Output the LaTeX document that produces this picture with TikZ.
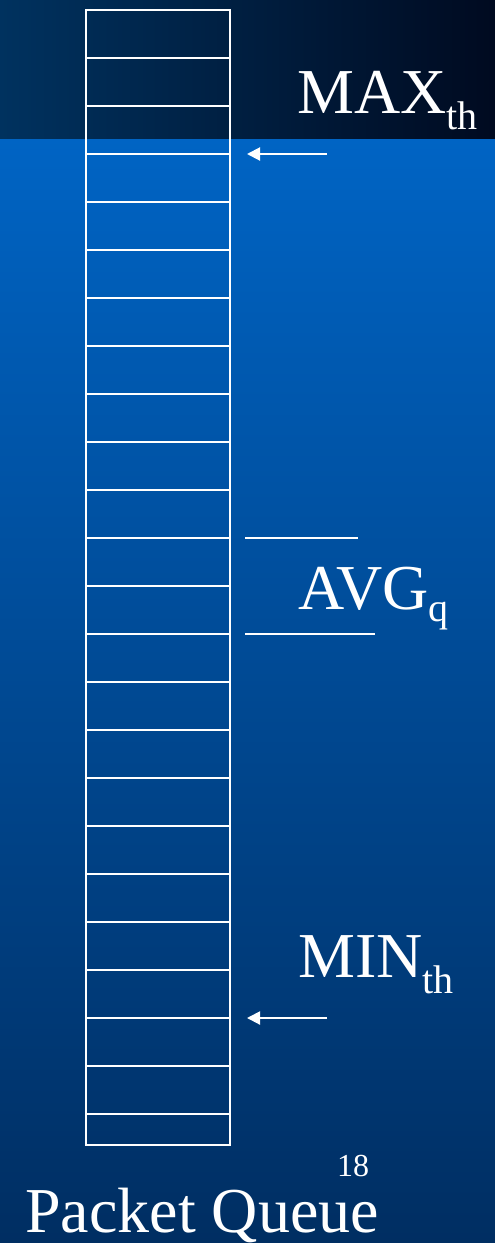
\documentclass[tikz,border=0pt]{standalone}
\usepackage{fontspec}
\setmainfont{Liberation Serif}
\usetikzlibrary{arrows.meta,positioning}
\definecolor{bandLeft} {RGB}{0,  50,  95}
\definecolor{bandRight}{RGB}{0,  10,  32}
\definecolor{slideTop} {RGB}{0,  100, 196}
\definecolor{slideMid} {RGB}{0,  76,  152}
\definecolor{slideBot} {RGB}{0,  46,  98}
\newcommand{\lowsub}[2]{\raisebox{-#1}{\fontsize{40}{40}\selectfont #2}}

\begin{document}
\begin{tikzpicture}[x=1pt,y=-1pt,
    cell/.style={draw=white,line width=2pt,minimum width=144pt,minimum height=48pt,
                 inner sep=0pt,outer sep=0pt},
    lbl/.style={text=white,font=\fontsize{64}{64}\selectfont,anchor=base west,inner sep=0pt},
    ptr/.style={-{Triangle[length=13pt,width=13pt]},white,line width=2pt},
    bar/.style={white,line width=2pt}]

    \useasboundingbox (0,0) rectangle (495,1243);

    % ─── Fundo ────────────────────────────────────────────
    \shade[top color=slideTop,middle color=slideMid,bottom color=slideBot]
      (0,138) rectangle (495,1243);
    \shade[left color=bandLeft,right color=bandRight] (0,0) rectangle (495,138);

    % ─── Fila de pacotes ──────────────────────────────────
    \foreach \k in {0,...,22}{
      \node[cell] (c\k) at (158,34+48*\k) {};
    }
    \node[cell,minimum height=31pt] (c23) at (158,1129.5) {};

    % ─── MAX_th ───────────────────────────────────────────
    \node[lbl] (maxlbl) at (297,113) {MAX\lowsub{16pt}{th}};
    \coordinate[right=17pt of c3.north east] (maxtip);
    \coordinate[right=80pt of maxtip] (maxtail);
    \draw[ptr] (maxtail) -- (maxtip);

    % ─── AVG_q ────────────────────────────────────────────
    \node[lbl] (avglbl) at (298,609) {AVG\lowsub{12pt}{q}};
    \coordinate[right=15pt of c11.north east] (avgtopA);
    \coordinate[right=113pt of avgtopA] (avgtopB);
    \draw[bar] (avgtopA) -- (avgtopB);
    \coordinate[right=15pt of c13.north east] (avgbotA);
    \coordinate[right=130pt of avgbotA] (avgbotB);
    \draw[bar] (avgbotA) -- (avgbotB);

    % ─── MIN_th ───────────────────────────────────────────
    \node[lbl] (minlbl) at (298,977) {MIN\lowsub{16pt}{th}};
    \coordinate[right=17pt of c21.north east] (mintip);
    \coordinate[right=80pt of mintip] (mintail);
    \draw[ptr] (mintail) -- (mintip);

    % Rodape
    \node[lbl,font=\fontsize{32}{32}\selectfont] (pagenum) at (337,1176) {18};
    \node[lbl] (caption) at (25,1232) {Packet Queue};

\end{tikzpicture}
\end{document}
